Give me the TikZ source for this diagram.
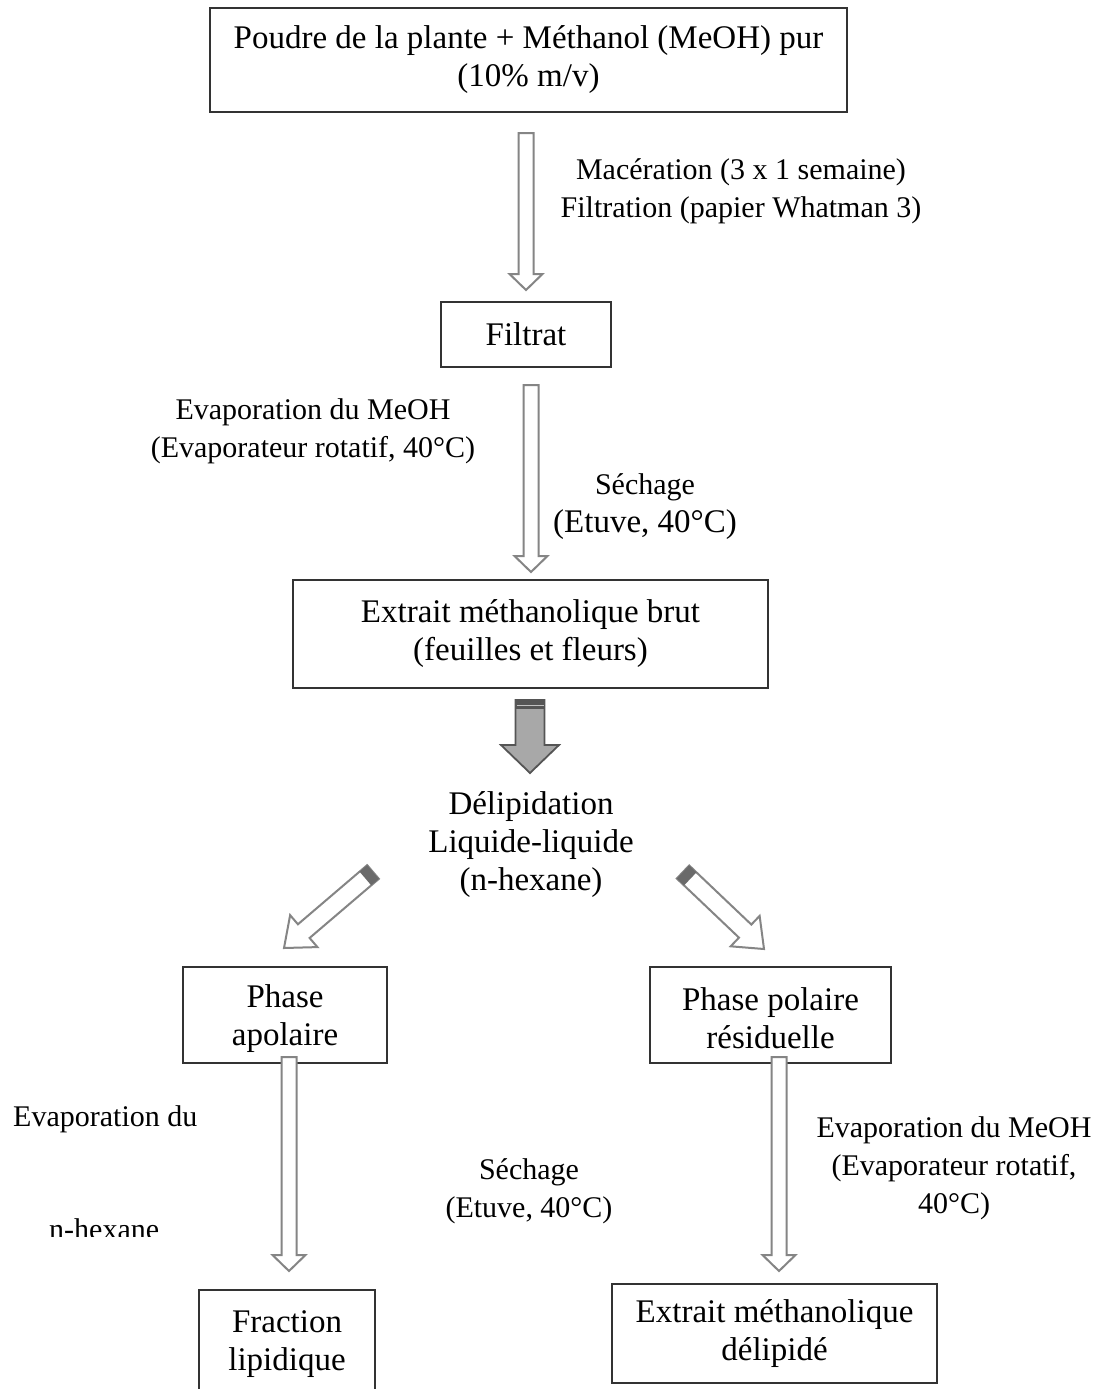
\documentclass[tikz,border=0pt]{standalone}
\usepackage{fontspec}
\setmainfont{Liberation Serif}
\usetikzlibrary{calc}
\definecolor{boxline}{HTML}{333333}
\definecolor{arrline}{HTML}{858585}
\definecolor{darkfill}{HTML}{A8A8A8}
\definecolor{darkline}{HTML}{555555}
\newcommand\bigfs{\fontsize{33}{38}\selectfont}
\newcommand\midfs{\fontsize{30}{38}\selectfont}
\tikzset{
  box/.style={draw=boxline, line width=1.8pt, inner sep=0pt, align=center, font=\bigfs},
  lbl/.style={inner sep=0pt, align=center, font=\midfs},
  harrowstyle/.style={draw=arrline, line width=2pt, fill=white, line join=miter},
}
% hollow arrow: #1 start, #2 end, #3 half shaft, #4 half head, #5 head length
\newcommand\harrow[5]{%
  \path ($(#2)!#5!(#1)$) coordinate (hb);
  \draw[harrowstyle] ($(#1)!#3!90:(#2)$) -- ($(hb)!#3!90:(#2)$) -- ($(hb)!#4!90:(#2)$) -- (#2)
    -- ($(hb)!#4!-90:(#2)$) -- ($(hb)!#3!-90:(#2)$) -- ($(#1)!#3!-90:(#2)$) -- cycle;
}
% dark cap at the start of an arrow: #1 start, #2 end, #3 half shaft, #4 cap length
\newcommand\harrowcap[4]{%
  \path ($(#1)!#4!(#2)$) coordinate (cb);
  \fill[arrline!80!black] ($(#1)!#3!90:(#2)$) -- ($(cb)!#3!90:(#2)$) -- ($(cb)!#3!-90:(#2)$) -- ($(#1)!#3!-90:(#2)$) -- cycle;
}
\begin{document}
\begin{tikzpicture}[x=1pt,y=-1pt]
\clip (0,0) rectangle (1100,1389);
\fill[white] (0,0) rectangle (1100,1389);

% boxes
\node[box, minimum width=637pt, minimum height=104pt] (top) at (528.5,60) {Poudre de la plante + Méthanol (MeOH) pur\\(10\% m/v)};
\node[box, minimum width=170pt, minimum height=65pt] (filtrat) at (526,334.5) {Filtrat};
\node[box, minimum width=475pt, minimum height=108pt] (brut) at (530.5,634) {Extrait méthanolique brut\\(feuilles et fleurs)};
\node[box, minimum width=204pt, minimum height=96pt] (apol) at (285,1015) {};
\node[align=center, inner sep=0pt, font=\bigfs] (apolt) at (285,1019) {Phase\\apolaire};
\node[box, minimum width=241pt, minimum height=96pt] (pol) at (770.5,1015) {};
\node[align=center, inner sep=0pt, font=\bigfs] (polt) at (770.5,1018) {Phase polaire\\résiduelle};
\node[box, minimum width=176pt, minimum height=106pt] (frac) at (287,1343) {};
\node[align=center, inner sep=0pt, font=\bigfs] (fract) at (287,1344) {Fraction\\lipidique};
\node[box, minimum width=325pt, minimum height=99pt] (delip) at (774.5,1333.5) {Extrait méthanolique\\délipidé};

% labels
\node[lbl] (l1) at (741,191) {Macération (3 x 1 semaine)\\Filtration (papier Whatman 3)};
\node[lbl] (l2) at (313,431) {Evaporation du MeOH\\(Evaporateur rotatif, 40°C)};
\node[lbl] (l3) at (645,507) {Séchage\\{\bigfs (Etuve, 40°C)}};
\node[lbl, font=\bigfs] (l4) at (531,845) {Délipidation\\Liquide-liquide\\(n-hexane)};
\node[lbl, anchor=west] (l5) at (13,1119) {Evaporation du};
\begin{scope}
\clip (0,1200) rectangle (300,1236);
\node[lbl, anchor=base west] (l6) at (49,1239) {n-hexane};
\end{scope}
\node[lbl] (l7) at (529,1191) {Séchage\\(Etuve, 40°C)};
\node[lbl] (l8) at (954,1168) {Evaporation du MeOH\\(Evaporateur rotatif,\\40°C)};

% arrow end points
\coordinate (a1s) at (526,133); \coordinate (a1e) at (526,290);
\coordinate (a2s) at (531,385); \coordinate (a2e) at (531,572);
\coordinate (a3s) at (289,1057); \coordinate (a3e) at (289,1271);
\coordinate (a4s) at (779,1057); \coordinate (a4e) at (779,1271);
\coordinate (dls) at (373,872); \coordinate (dle) at (284,948);
\coordinate (drs) at (683,872); \coordinate (dre) at (764,949);
\coordinate (dks) at (530,700); \coordinate (dke) at (530,773);

\harrow{a1s}{a1e}{7.5pt}{16.5pt}{16pt}
\harrow{a2s}{a2e}{7.5pt}{16.5pt}{16pt}
\harrow{a3s}{a3e}{7.5pt}{16.5pt}{16pt}
\harrow{a4s}{a4e}{7.5pt}{16.5pt}{16pt}

\harrow{dls}{dle}{9pt}{21pt}{26pt}
\harrowcap{dls}{dle}{9pt}{10pt}
\harrow{drs}{dre}{9pt}{21pt}{26pt}
\harrowcap{drs}{dre}{9pt}{10pt}

% dark arrow
\path ($(dke)!28pt!(dks)$) coordinate (dkb);
\draw[draw=darkline, line width=1.8pt, fill=darkfill, line join=miter]
  ($(dks)+(-14.5,0)$) -- ($(dkb)+(-14.5,0)$) -- ($(dkb)+(-29,0)$) -- (dke)
  -- ($(dkb)+(29,0)$) -- ($(dkb)+(14.5,0)$) -- ($(dks)+(14.5,0)$) -- cycle;
\fill[darkline] ($(dks)+(-14.5,0)$) rectangle ($(dks)+(14.5,9)$);
\draw[darkfill!70!white, line width=1pt] ($(dks)+(-13.5,5)$) -- ($(dks)+(13.5,5)$);
\end{tikzpicture}
\end{document}
